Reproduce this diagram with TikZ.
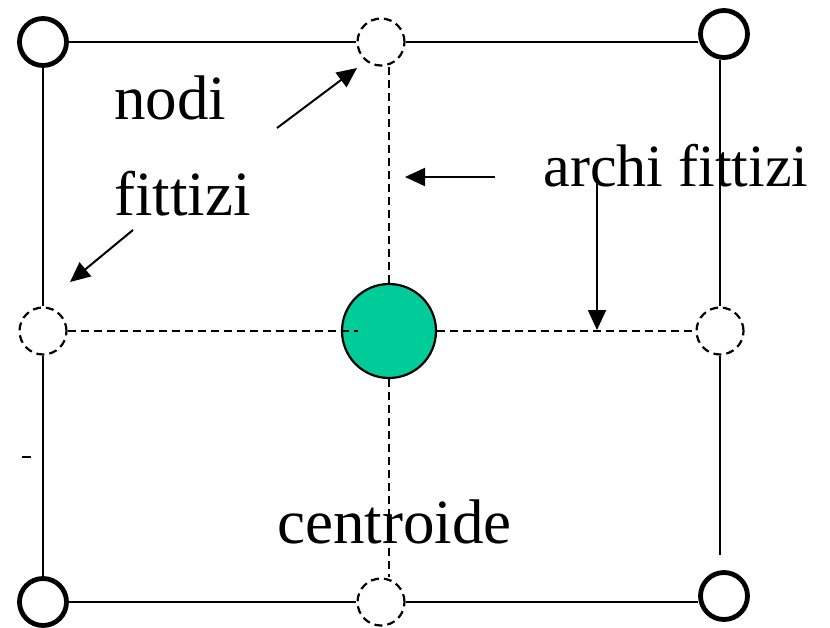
\documentclass[tikz,border=0pt]{standalone}
\usepackage{fontspec}
\setmainfont{Liberation Serif}
\usetikzlibrary{arrows.meta}
\definecolor{verdecentro}{RGB}{0,204,153}
\begin{document}
\begin{tikzpicture}[x=0.5pt,y=-0.5pt,
		vertice/.style={circle,draw,line width=2.4pt,minimum size=23.5pt,inner sep=0pt},
		fittizio/.style={circle,draw,line width=1.1pt,dash pattern=on 4pt off 2.5pt,minimum size=23.5pt,inner sep=0pt},
		arco/.style={line width=1pt},
		arcofitt/.style={line width=1pt,dash pattern=on 4pt off 2.5pt},
		freccia/.style={line width=1pt,-{Triangle[length=10pt,width=9pt]}},
		etichetta/.style={anchor=base west,inner sep=0pt,font=\fontsize{31.5}{36}\selectfont}]
		\useasboundingbox (0,0) rectangle (830,627);
		% vertici reali agli angoli
		\node[vertice] (tl) at (43,42) {};
		\node[vertice] (tr) at (724,34) {};
		\node[vertice] (bl) at (43,602) {};
		\node[vertice] (br) at (724,596) {};
		% nodi fittizi a meta' dei lati
		\node[fittizio] (ft) at (381,42) {};
		\node[fittizio] (fl) at (43,331) {};
		\node[fittizio] (fr) at (720,331) {};
		\node[fittizio] (fb) at (381,602) {};
		% centroide
		\node[circle,draw,fill=verdecentro,line width=1.1pt,minimum size=47pt,inner sep=0pt] (c) at (389,331) {};
		\coordinate (rend) at (720,555);
		\coordinate (cin) at (358,331);
		% lati
		\draw[arco] (tl.east) -- (ft.west);
		\draw[arco] (ft.east) -- (ft.east -| tr.west);
		\draw[arco] (tl.south) -- (fl.north);
		\draw[arco] (fl.south) -- (bl.north);
		\draw[arco] (fr.north |- tr.south) -- (fr.north);
		\draw[arco] (fr.south) -- (rend);
		\draw[arco] (bl.east) -- (fb.west);
		\draw[arco] (fb.east) -- (fb.east -| br.west);
		\draw[arco] (22,457) -- (31,457);
		% archi fittizi
		\draw[arcofitt] (c.north |- ft.south) -- (c.north);
		\draw[arcofitt] (c.south) -- (c.south |- fb.north);
		\draw[arcofitt] (fl.east) -- (cin);
		\draw[arcofitt] (c.east) -- (fr.west);
		% etichette
		\node[etichetta] (lnodi) at (114,119) {nodi};
		\node[etichetta] (lfitt) at (114,215) {fittizi};
		\node[etichetta,font=\fontsize{30}{34}\selectfont] (larchi) at (543,186) {archi fittizi};
		\node[etichetta] (lcentro) at (277,543) {centroide};
		\coordinate (a1) at (277,128);
		\coordinate (b1) at (357,68);
		\coordinate (a2) at (133,230);
		\coordinate (b2) at (70,282);
		\coordinate (a3) at (495,177);
		\coordinate (b3) at (405,177);
		\coordinate (a4) at (597,183);
		\coordinate (b4) at (597,330);
		\draw[freccia] (a1) -- (b1);
		\draw[freccia] (a2) -- (b2);
		\draw[freccia] (a3) -- (b3);
		\draw[freccia] (a4) -- (b4);
\end{tikzpicture}
\end{document}
